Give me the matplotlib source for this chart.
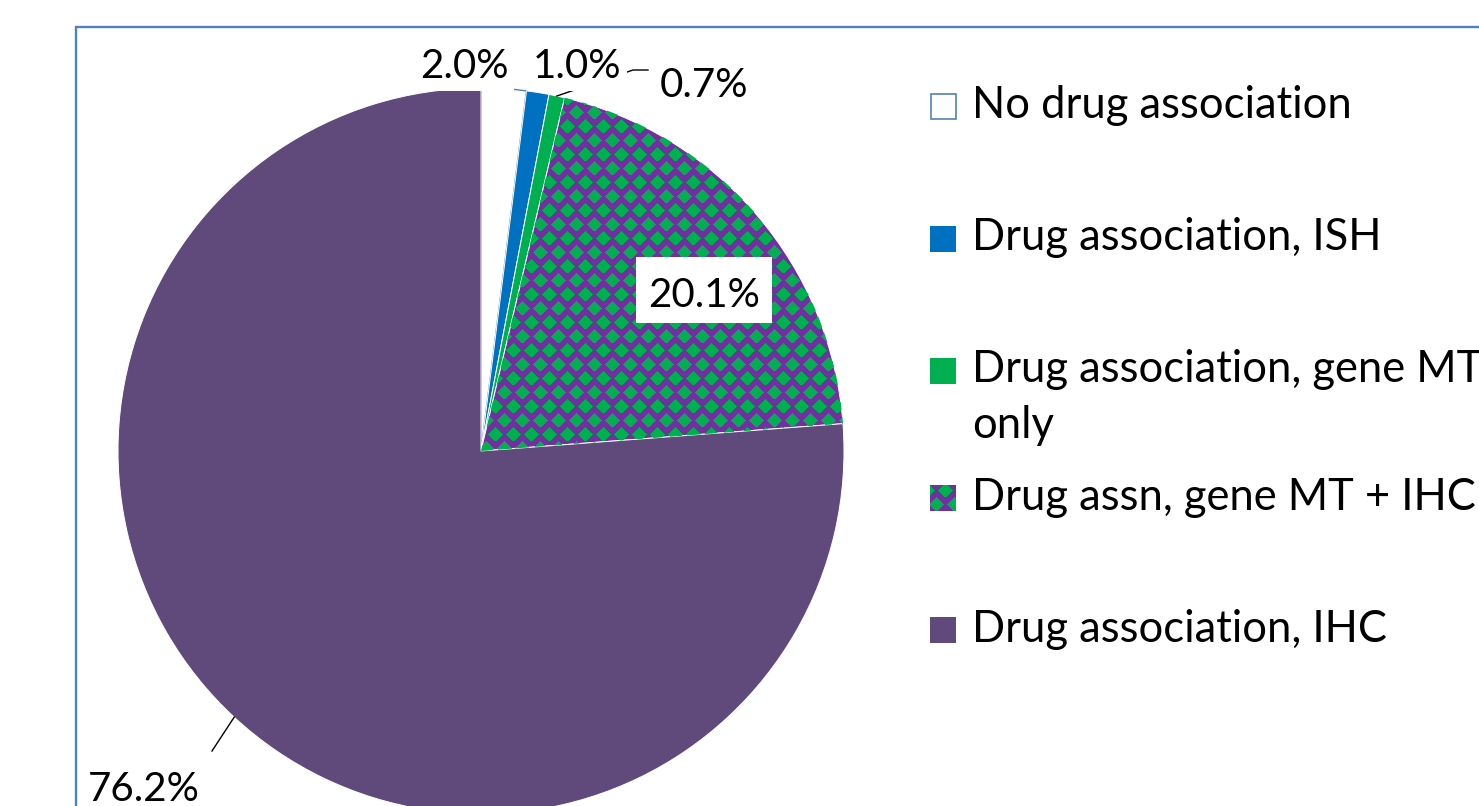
import numpy as np
import matplotlib
matplotlib.use("Agg")
import matplotlib.pyplot as plt
from matplotlib.patches import Rectangle

# ---------------- data ----------------
categories = ["No drug association",
              "Drug association, ISH",
              "Drug association, gene MT\nonly",
              "Drug assn, gene MT + IHC",
              "Drug association, IHC"]
values = [2.0, 1.0, 0.7, 20.1, 76.2]
colors = ["#FFFFFF", "#0070C0", "#00B050", "#7030A0", "#604A7B"]
pattern_fg = "#00B050"
patterned = [False, False, False, True, False]

# ---------------- layout ----------------
W, H = 1479, 806
FONT = "Lato"
fig = plt.figure(figsize=(W / 100, H / 100), dpi=100)
ax = fig.add_axes([0, 0, 1, 1])


def Y(y):  # pixel row (from top) -> data y
    return H - y


cx, cy, R = 481, 451, 363
wedges, _ = ax.pie(values, colors=colors, startangle=90, counterclock=False,
                   center=(cx, Y(cy)), radius=R,
                   wedgeprops=dict(edgecolor="white", linewidth=0.7))
wedges[0].set_edgecolor("#4F81BD")
wedges[0].set_linewidth(1.0)
ax.set_xlim(0, W)
ax.set_ylim(0, H)
ax.set_aspect("auto")
ax.axis("off")

# plot-area clip (top edge of the plot area cuts the pie)
clip_rect = Rectangle((0, 0), W, Y(94), transform=ax.transData)
for w in wedges:
    w.set_clip_path(clip_rect)

# pattern texture (staggered green diamonds on purple)
yy, xx = np.mgrid[0:H, 0:W]
px, py, rad = 18, 14, 7.2
j = np.floor((yy + py / 2) / py)
dy = yy - j * py
off = (j % 2) * (px / 2)
dx = ((xx - off + px / 2) % px) - px / 2
mask = (np.abs(dx) + np.abs(dy)) <= rad
tex = np.zeros((H, W, 4))
tex[..., :3] = matplotlib.colors.to_rgb(pattern_fg)
tex[..., 3] = mask.astype(float)

for i, w in enumerate(wedges):
    if patterned[i]:
        im = ax.imshow(tex, extent=(0, W, 0, H), origin="upper",
                       interpolation="nearest", zorder=w.get_zorder() + 0.1)
        im.set_clip_path(w)
ax.set_xlim(0, W)
ax.set_ylim(0, H)
ax.set_aspect("auto")

# ---------------- font size fitting ----------------
renderer = fig.canvas.get_renderer()


def fit_size(text, target_px):
    tt = ax.text(0, 0, text, fontsize=10, family=FONT)
    wpx = tt.get_window_extent(renderer).width
    tt.remove()
    return 10 * target_px / wpx


leg_fs = fit_size("No drug association", 380)
lab_fs = fit_size("20.1%", 112)

# ---------------- data labels ----------------
labels = [f"{v:.1f}%" for v in values]
label_pos = [(464, 78.3), (577, 78.3), (704, 97.3), (704, 306.7), (143.5, 801)]


def edge_point(w, rr=R):
    mid = np.deg2rad((w.theta1 + w.theta2) / 2)
    return cx + rr * np.cos(mid), Y(cy) + rr * np.sin(mid)


# leader lines
p = edge_point(wedges[2])
ax.plot([p[0], 633, 648], [p[1], Y(70), Y(70)], color="black", lw=1.0, zorder=5)
p = edge_point(wedges[4])
ax.plot([p[0], 212], [p[1], Y(751)], color="black", lw=1.0, zorder=5)

for i, (lab, (lx, ly)) in enumerate(zip(labels, label_pos)):
    kw = {}
    if i in (0, 1):
        kw["bbox"] = dict(facecolor="white", edgecolor="none", boxstyle="square,pad=0.15")
    ax.text(lx, Y(ly), lab, fontsize=lab_fs, family=FONT, ha="center", va="baseline",
            color="black", zorder=6, **kw)

# white box behind 20.1%
ax.add_patch(Rectangle((636, Y(323)), 136, 66, facecolor="white", edgecolor="none", zorder=5.5))

# ---------------- legend ----------------
row_y = [106, 239, 371, 498, 630]
line_step = 56
for i, (cat, yc) in enumerate(zip(categories, row_y)):
    if i == 0:
        rect = Rectangle((931, Y(yc + 12.5)), 25, 25, facecolor="white",
                         edgecolor="#4F81BD", linewidth=1.2, zorder=5)
    else:
        rect = Rectangle((930, Y(yc + 13)), 26, 26, facecolor=colors[i],
                         edgecolor="none", zorder=5)
    ax.add_patch(rect)
    if patterned[i]:
        im2 = ax.imshow(tex, extent=(0, W, 0, H), origin="upper",
                        interpolation="nearest", zorder=5.1)
        im2.set_clip_path(rect)
    for k, line in enumerate(cat.split("\n")):
        ax.text(972, Y(yc + 11.5 + k * line_step), line, fontsize=leg_fs, family=FONT,
                ha="left", va="baseline", color="black", zorder=6)

ax.set_xlim(0, W)
ax.set_ylim(0, H)
ax.set_aspect("auto")

# frame of the chart area
ax.plot([76, 76, W], [0, Y(26.7), Y(26.7)], color="#4F81BD", lw=1.7,
        solid_joinstyle="miter", zorder=7)

fig.savefig("out.png", dpi=100)
